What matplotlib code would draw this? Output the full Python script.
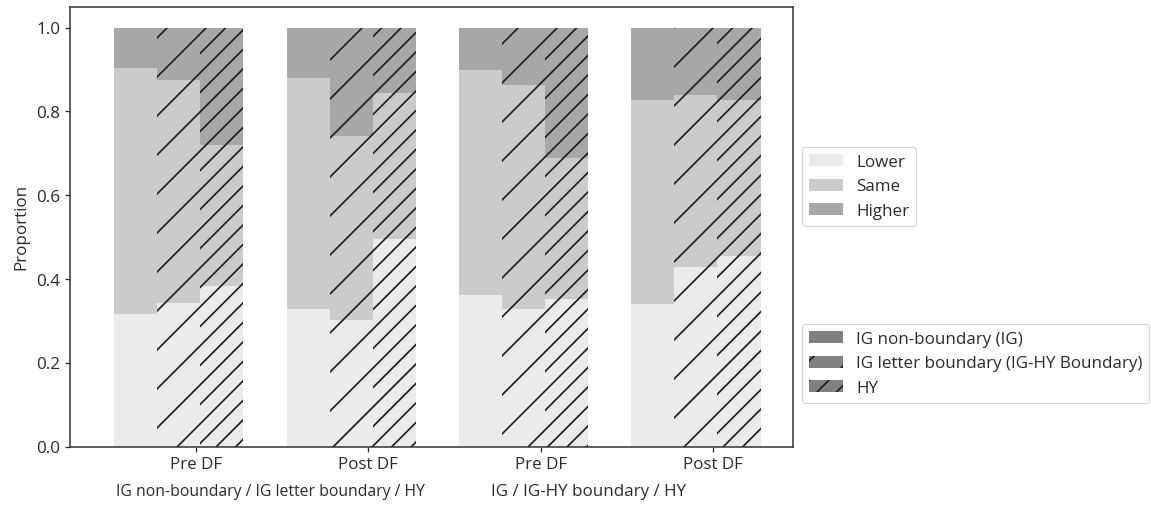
import matplotlib
matplotlib.use('Agg')
import matplotlib.pyplot as plt
from matplotlib.patches import Patch
from matplotlib import transforms
import numpy as np

# proportions per period (Pre DF, Post DF, Pre DF, Post DF)
periods = ['Pre DF', 'Post DF', 'Pre DF', 'Post DF']
outcomes = ['Lower', 'Same', 'Higher']
groups = ['IG non-boundary (IG)', 'IG letter boundary (IG-HY Boundary)', 'HY']
set_labels = ['IG non-boundary / IG letter boundary / HY', 'IG / IG-HY boundary / HY']

ig_lower = [0.317, 0.329, 0.363, 0.341]
ig_same = [0.587, 0.551, 0.537, 0.487]
ig_higher = [0.096, 0.120, 0.100, 0.172]

bd_lower = [0.343, 0.303, 0.329, 0.430]
bd_same = [0.533, 0.439, 0.533, 0.410]
bd_higher = [0.124, 0.258, 0.138, 0.160]

hy_lower = [0.383, 0.496, 0.352, 0.456]
hy_same = [0.338, 0.348, 0.337, 0.372]
hy_higher = [0.279, 0.156, 0.311, 0.172]

outcome_colors = ['#ebebeb', '#cbcbcb', '#a7a7a7']
group_hatch = ['', '/', '//']
hatch_col = '#1e1e1e'

# agg hatch '/' spacing is dpi/3 px, so pick the dpi and give sizes in pixels
DPI = 117
px = 72.0 / DPI  # one pixel in points

plt.rcParams['font.family'] = ['Open Sans', 'DejaVu Sans']
plt.rcParams['font.size'] = 17.0 * px
plt.rcParams['text.color'] = '#2b2b2b'
plt.rcParams['axes.labelcolor'] = '#2b2b2b'
plt.rcParams['xtick.color'] = '#2b2b2b'
plt.rcParams['ytick.color'] = '#2b2b2b'
plt.rcParams['axes.edgecolor'] = '#3a3a3a'
plt.rcParams['axes.linewidth'] = 1.6 * px
plt.rcParams['xtick.major.size'] = 5 * px
plt.rcParams['ytick.major.size'] = 5 * px
plt.rcParams['xtick.major.width'] = 1.3 * px
plt.rcParams['ytick.major.width'] = 1.3 * px
plt.rcParams['xtick.major.pad'] = 5 * px
plt.rcParams['ytick.major.pad'] = 5 * px
plt.rcParams['hatch.linewidth'] = 1.7 * px
plt.rcParams['hatch.color'] = hatch_col

fig = plt.figure(figsize=(1151.4 / DPI, 510.4 / DPI), dpi=DPI)
ax = fig.add_axes([70 / 1151., 63 / 510., 723 / 1151., 440 / 510.])

x = np.arange(len(periods))
width = 0.25
series = [(ig_lower, ig_same, ig_higher),
          (bd_lower, bd_same, bd_higher),
          (hy_lower, hy_same, hy_higher)]

for j, vals in enumerate(series):
    bottom = np.zeros(len(periods))
    for k, v in enumerate(vals):
        ax.bar(x - 0.475 + j * width, v, width, bottom=bottom, align='edge',
               color=outcome_colors[k], hatch=group_hatch[j],
               edgecolor=hatch_col, linewidth=0)
        bottom += np.array(v)

ax.set_xlim(-0.731, 3.465)
ax.set_ylim(0, 1.05)
ax.set_xticks(x)
ax.set_xticklabels(periods)
ax.set_yticks([0.0, 0.2, 0.4, 0.6, 0.8, 1.0])
ax.set_ylabel('Proportion', labelpad=7 * px)

trans = transforms.blended_transform_factory(ax.transData, ax.transAxes)
ax.text(0.43, -0.111, set_labels[0], transform=trans, ha='center',
        va='baseline', fontsize=15.8 * px)
ax.text(2.28, -0.111, set_labels[1], transform=trans, ha='center',
        va='baseline')

h1 = [Patch(facecolor=c, edgecolor='none') for c in outcome_colors]
leg1 = ax.legend(h1, outcomes, loc='center left', bbox_to_anchor=(1.0, 0.591))
leg1.get_frame().set_linewidth(1.2 * px)
ax.add_artist(leg1)

h2 = [Patch(facecolor='#808080', edgecolor=hatch_col, linewidth=0, hatch=h)
      for h in group_hatch]
leg2 = ax.legend(h2, groups, loc='center left', bbox_to_anchor=(1.0, 0.189))
leg2.get_frame().set_linewidth(1.2 * px)

fig.savefig('out.png', dpi=DPI)
